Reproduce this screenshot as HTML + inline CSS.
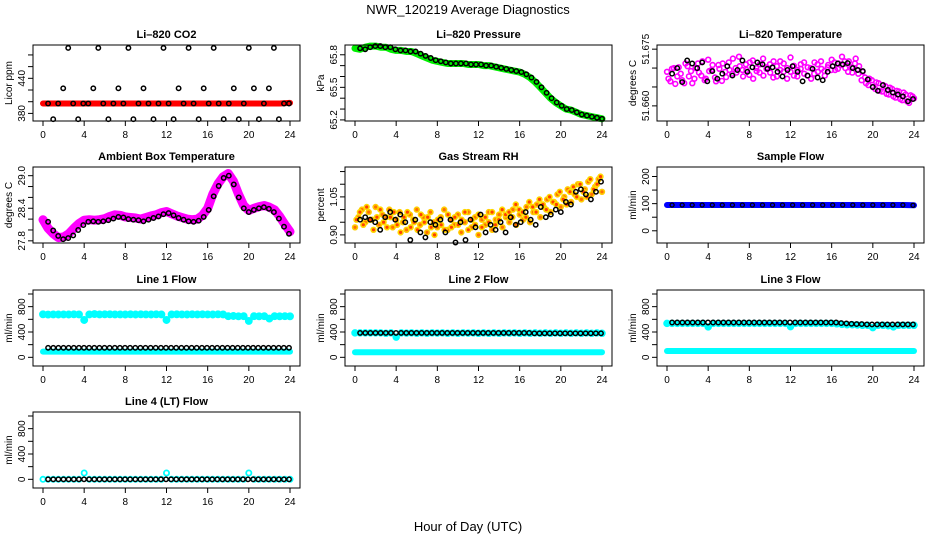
<!DOCTYPE html>
<html><head><meta charset="utf-8"><style>
body{margin:0;background:#fff}
svg{display:block;font-family:"Liberation Sans",sans-serif}
</style></head><body>
<svg id="c" width="936" height="540" viewBox="0 0 936 540" xmlns="http://www.w3.org/2000/svg"></svg>
<script>
const hoursTicks=[0,4,8,12,16,20,24];
const co2Red=[397,397,397,397,397,397,397,397,397,397,397,397,397,397,397,397,397,397,397,397,397,397,397,397,398];
const co2Black=[397,370,397,423,492,397,370,397,397,423,492,397,370,397,423,397,492,370,397,423,397,370,397,492,397,370,423,397,492,397,370,423,397,492,397,370,397,423,370,397,492,423,370,397,423,492,370,397,397];
const pressure=[65.86,65.85,65.87,65.88,65.88,65.87,65.87,65.85,65.84,65.84,65.83,65.83,65.81,65.79,65.77,65.75,65.74,65.73,65.72,65.72,65.72,65.72,65.71,65.71,65.71,65.70,65.70,65.69,65.68,65.67,65.66,65.65,65.64,65.62,65.59,65.55,65.50,65.45,65.40,65.36,65.33,65.30,65.29,65.27,65.25,65.24,65.23,65.22,65.21];
const licorTempCloud=[51.6690,51.6665,51.6700,51.6678,51.6685,51.6660,51.6705,51.6692,51.6672,51.6712,51.6680,51.6668,51.6722,51.6695,51.6675,51.6708,51.6666,51.6690,51.6715,51.6685,51.6700,51.6730,51.6695,51.6710,51.6682,51.6720,51.6700,51.6688,51.6725,51.6698,51.6710,51.6675,51.6705,51.6718,51.6690,51.6700,51.6728,51.6680,51.6695,51.6710,51.6685,51.6702,51.6672,51.6715,51.6690,51.6698,51.6680,51.6708,51.6722,51.6695,51.6712,51.6730,51.6700,51.6718,51.6688,51.6725,51.6705,51.6690,51.6660,51.6672,51.6650,51.6662,51.6640,51.6655,51.6632,51.6648,51.6625,51.6640,51.6618,51.6635,51.6612,51.6628,51.6620];
const licorTempCloud2=[51.6672,51.6698,51.6658,51.6702,51.6668,51.6712,51.6678,51.6660,51.6700,51.6688,51.6718,51.6672,51.6692,51.6708,51.6665,51.6698,51.6712,51.6676,51.6695,51.6725,51.6688,51.6705,51.6678,51.6695,51.6715,51.6672,51.6692,51.6710,51.6680,51.6702,51.6688,51.6718,51.6678,51.6695,51.6712,51.6672,51.6690,51.6706,51.6678,51.6698,51.6715,51.6680,51.6700,51.6685,51.6710,51.6718,51.6692,51.6702,51.6695,51.6715,51.6698,51.6708,51.6718,51.6690,51.6702,51.6712,51.6685,51.6668,51.6675,51.6655,51.6668,51.6645,51.6660,51.6638,51.6652,51.6630,51.6645,51.6622,51.6638,51.6615,51.6630,51.6608,51.6625];
const licorTempBlack=[51.6685,51.6700,51.6663,51.6720,51.6712,51.6700,51.6715,51.6665,51.6692,51.6672,51.6685,51.6705,51.6680,51.6695,51.6720,51.6690,51.6702,51.6715,51.6710,51.6698,51.6702,51.6690,51.6678,51.6695,51.6705,51.6690,51.6665,51.6680,51.6698,51.6675,51.6668,51.6690,51.6705,51.6712,51.6710,51.6713,51.6700,51.6695,51.6692,51.6670,51.6650,51.6640,51.6655,51.6642,51.6635,51.6630,51.6625,51.6612,51.6618];
const ambient=[28.19,28.03,27.93,27.86,27.87,27.93,28.03,28.12,28.18,28.19,28.18,28.19,28.21,28.25,28.28,28.27,28.24,28.23,28.22,28.20,28.23,28.26,28.28,28.32,28.34,28.30,28.26,28.23,28.20,28.19,28.20,28.27,28.40,28.66,28.85,28.98,29.04,28.90,28.66,28.45,28.36,28.40,28.43,28.45,28.42,28.37,28.25,28.10,27.97];
const ambientBlack=[28.15,27.99,27.89,27.83,27.85,27.90,28.00,28.09,28.15,28.16,28.15,28.16,28.18,28.21,28.24,28.23,28.20,28.19,28.18,28.16,28.19,28.22,28.25,28.29,28.31,28.27,28.22,28.19,28.16,28.15,28.17,28.24,28.37,28.62,28.81,28.96,29.00,28.84,28.60,28.40,28.33,28.37,28.40,28.42,28.39,28.33,28.21,28.06,27.93];
const rhCloud=[0.93,0.97,1.00,0.95,0.99,0.96,1.01,0.94,0.98,0.97,1.00,0.93,0.96,0.99,0.95,0.92,0.98,0.96,1.00,0.94,0.97,0.91,0.99,0.95,0.93,0.97,1.00,0.92,0.96,0.94,0.98,0.91,0.95,0.99,0.93,0.97,0.90,0.96,0.94,0.99,0.92,0.96,0.98,0.93,0.97,0.95,1.00,0.94,0.98,0.96,1.01,0.95,0.99,1.02,0.97,1.01,1.04,0.99,1.03,1.06,1.01,1.05,1.08,1.03,1.06,1.10,1.04,1.08,1.11,1.06,1.09,1.12,1.07];
const rhCloud2=[0.96,0.99,0.94,1.01,0.96,0.92,0.97,1.00,0.95,0.93,0.97,0.99,0.94,0.91,0.97,0.99,0.93,0.95,0.92,0.98,0.95,0.97,0.93,0.90,0.96,0.94,0.92,0.98,0.93,0.97,0.94,0.96,0.99,0.92,0.96,0.94,0.98,0.93,0.97,0.95,0.99,0.94,0.96,1.00,0.98,0.99,0.97,1.02,1.00,0.99,0.97,1.03,1.01,0.99,1.04,1.02,1.00,1.05,1.03,1.02,1.07,1.04,1.02,1.07,1.09,1.05,1.10,1.07,1.05,1.12,1.08,1.10,1.13];
const rhBlack=[0.96,0.97,0.96,0.95,0.92,0.97,0.99,0.96,0.98,0.95,0.88,0.96,0.91,0.89,0.95,0.94,0.96,0.91,0.96,0.87,0.95,0.88,0.96,0.93,0.98,0.91,0.94,0.92,0.95,0.91,0.97,0.94,0.95,0.99,0.96,0.94,1.01,0.97,0.98,1.00,0.99,1.03,1.02,1.07,1.08,1.06,1.04,1.07,1.11];
const sampleFlow=[95,95,95,95,95,95,95,95,95,95,95,95,95,95,95,95,95,95,95,95,95,95,95,95,94];
const line1High=[680,675,678,676,678,676,680,678,590,678,682,678,680,680,678,678,676,680,676,680,678,676,680,678,590,678,680,678,676,680,678,680,678,676,680,678,650,652,648,650,575,650,648,650,612,650,648,650,648];
const line1Low=[90,90,90,90,90,90,90,90,90,90,90,90,90,90,90,90,90,90,90,90,90,90,90,90,90];
const line1Black=[150,150,150,150,150,150,150,150,150,150,150,150,150,150,150,150,150,150,150,150,150,150,150,150,150,150,150,150,150,150,150,150,150,150,150,150,150,150,150,150,150,150,150,150,150,150,150,150];
const line2High=[385,385,385,385,385,385,380,385,320,385,382,385,380,385,380,385,382,385,380,385,380,385,382,385,380,385,380,385,380,385,382,385,380,385,380,385,380,385,380,385,380,385,380,385,380,385,380,385,380];
const line2Low=[80,80,80,80,80,80,80,80,80,80,80,80,80,80,80,80,80,80,80,80,80,80,80,80,80];
const line2Black=[385,385,385,385,385,385,385,385,385,385,385,385,385,385,385,385,385,385,385,385,385,385,385,385,385,385,385,385,385,385,385,385,385,385,380,380,380,380,380,380,380,380,380,380,380,380,380,380];
const line3High=[535,535,535,535,535,535,535,535,480,535,535,535,535,535,535,535,535,535,535,535,535,535,535,535,485,535,535,535,535,535,535,535,535,530,520,515,515,510,505,505,470,505,505,500,480,505,505,505,505];
const line3Low=[100,100,100,100,100,100,100,100,100,100,100,100,100,100,100,100,100,100,100,100,100,100,100,100,100];
const line3Black=[550,550,550,550,550,550,550,550,550,550,550,550,550,550,550,550,550,550,550,550,550,550,550,550,550,550,550,550,550,550,550,550,550,540,535,530,525,525,520,520,520,520,520,520,520,520,520,520];
const line4Cyan=[0,0,0,0,0,0,0,0,100,0,0,0,0,0,0,0,0,0,0,0,0,0,0,0,100,0,0,0,0,0,0,0,0,0,0,0,0,0,0,0,100,0,0,0,0,0,0,0,0];
const line4Black=[0,0,0,0,0,0,0,0,0,0,0,0,0,0,0,0,0,0,0,0,0,0,0,0,0,0,0,0,0,0,0,0,0,0,0,0,0,0,0,0,0,0,0,0,0,0,0,0];

const svg=document.getElementById('c');
const NS='http://www.w3.org/2000/svg';
function mk(tag,attrs,parent){const e=document.createElementNS(NS,tag);for(const k in attrs)e.setAttribute(k,attrs[k]);(parent||svg).appendChild(e);return e;}
const colLeft=[33,345,657],rowTop=[45,167,290,412],BW=267,BH=76;

function panel(col,row,name,title,ylab,dom,ticks,labels,series){
  const L=colLeft[col],T=rowTop[row];
  const g=mk('g',{});
  
  
  const xs=h=>L+10+h*(247/24);
  const ys=v=>T+BH-(v-dom[0])/(dom[1]-dom[0])*BH;
  const t=mk('text',{x:L+BW/2,y:T-7,'text-anchor':'middle','font-size':'11','font-weight':'bold'},g);
  t.textContent=title;
  
  
  series.forEach(s=>{
    const n=s.vals.length,h0=s.h0||0,h1=s.h1==null?24:s.h1;
    const hx=i=>xs(h0+(h1-h0)*i/(n-1));
    if(s.kind==='line'){
      const p=mk('polyline',{points:s.vals.map((v,i)=>hx(i).toFixed(1)+','+ys(v).toFixed(1)).join(' '),fill:'none',stroke:s.color,'stroke-width':s.w||6,'stroke-linejoin':'round','stroke-linecap':'round'},g);
      
      
      return;
    }
    s.vals.forEach((v,i)=>{
      const c=mk('circle',{cx:hx(i).toFixed(1),cy:ys(v).toFixed(1),r:s.r||2.2,fill:s.fill||'none',stroke:s.color,'stroke-width':s.sw||1.5},g);
      
      
    });
  });
  const box=mk('rect',{x:L,y:T,width:BW,height:BH,fill:'none',stroke:'#000','stroke-width':1},g);
  
  
  hoursTicks.forEach(h=>{
    const x=xs(h);
    const tk=mk('line',{x1:x,x2:x,y1:T+BH,y2:T+BH+5,stroke:'#000'},g);
    
    
    const tl=mk('text',{x:x,y:T+BH+17,'text-anchor':'middle','font-size':'10'},g);
    tl.textContent=h;
    
    
  });
  ticks.forEach(v=>{
    const y=ys(v);
    const tk=mk('line',{x1:L-5,x2:L,y1:y,y2:y,stroke:'#000'},g);
    
    
  });
  labels.forEach(v=>{
    const y=ys(v);
    const tl=mk('text',{x:0,y:0,'text-anchor':'middle','font-size':'10',transform:`translate(${L-8},${y}) rotate(-90)`},g);
    tl.textContent=v;
    
    
  });
  const yt=mk('text',{x:0,y:0,'text-anchor':'middle','font-size':'10',transform:`translate(${L-21},${T+BH/2}) rotate(-90)`},g);
  yt.textContent=ylab;
  
  
}
const flowTicks=[0,200,400,600,800,1000],flowLabels=[0,400,800],flowDom=[-137,1063];

panel(0,0,'co2','Li\u2013820 CO2','Licor ppm',[367,497],[380,400,420,440,460,480],[380,440],[
 {id:'red',vals:co2Red,color:'#ff0000',kind:'line',w:6},
 {id:'black',vals:co2Black,color:'#000',h0:0.5,h1:23.9}]);
panel(1,0,'pressure','Li\u2013820 Pressure','kPa',[65.19,65.89],[65.2,65.3,65.4,65.5,65.6,65.7,65.8],['65.2','65.5','65.8'],[
 {id:'green',vals:pressure,color:'#00ee00',kind:'line',w:7},
 {id:'black',vals:pressure,color:'#000',h0:0.5,h1:24}]);
panel(2,0,'licor-temp','Li\u2013820 Temperature','degrees C',[51.656,51.6761],[51.660,51.665,51.670,51.675],['51.660','51.675'],[
 {id:'magenta',vals:licorTempCloud,color:'#ff00ff',r:2.4,sw:1.6},
 {id:'magenta2',vals:licorTempCloud2,color:'#ff00ff',r:2.4,sw:1.6,h0:0.15,h1:23.85},
 {id:'black',vals:licorTempBlack,color:'#000',h0:0.5,h1:23.9}]);
panel(0,1,'ambient-temp','Ambient Box Temperature','degrees C',[27.76,29.16],[27.8,28.0,28.2,28.4,28.6,28.8,29.0],['27.8','28.4','29.0'],[
 {id:'magenta',vals:ambient,color:'#ff00ff',kind:'line',w:9},
 {id:'black',vals:ambientBlack,color:'#000',h0:0.5,h1:23.9}]);
panel(1,1,'gas-rh','Gas Stream RH','percent',[0.868,1.168],[0.90,0.95,1.00,1.05,1.10,1.15],['0.90','1.05'],[
 {id:'orange',vals:rhCloud,color:'#ffcc00',fill:'#ff7000',r:2.4,sw:1.6},
 {id:'orange2',vals:rhCloud2,color:'#ffd800',fill:'#ff4000',r:2.4,sw:1.6,h0:0.15,h1:23.85},
 {id:'black',vals:rhBlack,color:'#000',h0:0.5,h1:23.9}]);
panel(2,1,'sample-flow','Sample Flow','ml/min',[-45,235],[0,50,100,150,200],[0,100,200],[
 {id:'blue',vals:sampleFlow,color:'#0000ff',kind:'line',w:6},
 {id:'black',vals:sampleFlow,color:'#000',h0:0.5,h1:23.9,r:2,sw:1.3}]);
panel(0,2,'line1-flow','Line 1 Flow','ml/min',flowDom,flowTicks,flowLabels,[
 {id:'cyan-high',vals:line1High,color:'#00ffff',fill:'#00ffff',r:3.2,sw:1.5},
 {id:'cyan-low',vals:line1Low,color:'#00ffff',kind:'line',w:6},
 {id:'black',vals:line1Black,color:'#000',h0:0.5,h1:23.9}]);
panel(1,2,'line2-flow','Line 2 Flow','ml/min',flowDom,flowTicks,flowLabels,[
 {id:'cyan-high',vals:line2High,color:'#00ffff',fill:'#00ffff',r:3,sw:1.5},
 {id:'cyan-low',vals:line2Low,color:'#00ffff',kind:'line',w:6},
 {id:'black',vals:line2Black,color:'#000',h0:0.5,h1:23.9}]);
panel(2,2,'line3-flow','Line 3 Flow','ml/min',flowDom,flowTicks,flowLabels,[
 {id:'cyan-high',vals:line3High,color:'#00ffff',fill:'#00ffff',r:3,sw:1.5},
 {id:'cyan-low',vals:line3Low,color:'#00ffff',kind:'line',w:6},
 {id:'black',vals:line3Black,color:'#000',h0:0.5,h1:23.9}]);
panel(0,3,'line4-flow','Line 4 (LT) Flow','ml/min',flowDom,flowTicks,flowLabels,[
 {id:'cyan',vals:line4Cyan,color:'#00ffff',r:2.6,sw:1.8},
 {id:'black',vals:line4Black,color:'#000',h0:0.5,h1:23.9}]);

const mt=mk('text',{x:468,y:14,'text-anchor':'middle','font-size':'13'});
mt.textContent='NWR_120219  Average Diagnostics';


const xl=mk('text',{x:468,y:531,'text-anchor':'middle','font-size':'13'});
xl.textContent='Hour of Day (UTC)';


</script>
</body></html>
